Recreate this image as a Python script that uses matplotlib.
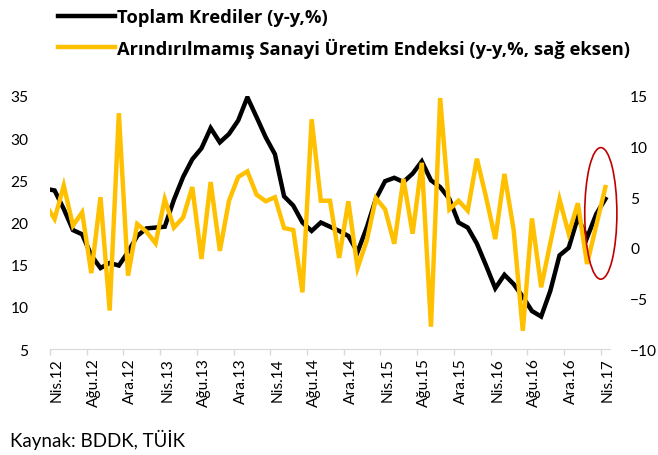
import numpy as np
import matplotlib.pyplot as plt
from matplotlib.patches import Ellipse
from matplotlib import transforms

plt.rcParams['font.family'] = ['Lato', 'DejaVu Sans']

# aylar: Mar.12 .. Nis.17 (Mar.12 grafik kenarinda kesiliyor)
ay_adlari = ['Oca', 'Şub', 'Mar', 'Nis', 'May', 'Haz',
             'Tem', 'Ağu', 'Eyl', 'Eki', 'Kas', 'Ara']
ilk_ay, ilk_yil = 2, 12   # Mart 2012
ay_sayisi = 62

# Toplam Krediler (y-y, %) - sol eksen
krediler = [24.0, 23.8, 21.6, 19.1, 18.6, 16.1, 14.6, 15.2, 14.9, 16.5,
            18.4, 19.3, 19.4, 19.5, 22.7, 25.4, 27.5, 28.8, 31.2, 29.5,
            30.5, 32.1, 34.85, 32.5, 30.1, 28.1, 23.1, 22.0, 20.0, 19.0,
            20.0, 19.5, 19.0, 18.4, 16.5, 19.4, 22.8, 24.9, 25.3, 24.8,
            25.8, 27.25, 25.0, 24.2, 22.8, 20.0, 19.4, 17.5, 14.9, 12.2,
            13.8, 12.7, 11.2, 9.5, 8.85, 11.9, 16.1, 17.0, 20.6, 18.2,
            21.0, 22.8]

# Arindirilmamis Sanayi Uretim Endeksi (y-y, %) - sag eksen
sanayi = [4.3, 2.85, 6.15, 2.2, 3.5, -2.5, 5.0, -6.2, 13.3, -2.75,
          2.35, 1.6, 0.44, 4.8, 2.0, 3.0, 6.0, -1.1, 6.5, -0.3,
          4.65, 7.0, 7.55, 5.25, 4.6, 5.0, 1.95, 1.76, -4.4, 12.7,
          4.65, 4.65, -1.0, 4.6, -2.0, 0.7, 4.9, 3.8, 0.4, 6.8,
          1.4, 8.4, -7.8, 14.8, 3.8, 4.65, 3.67, 8.8, 5.0, 0.87,
          7.3, 1.8, -8.2, 2.9, -3.9, 0.47, 4.8, 1.4, 4.4, -1.6,
          2.2, 6.0]

etiketler = []
for k in range(ay_sayisi):
    m = ilk_ay + k
    etiketler.append(f"{ay_adlari[m % 12]}.{ilk_yil + m // 12}")

x = np.arange(ay_sayisi) - 1          # Nis.12 -> 0
etiket_konum = x[1::4]
etiket_metin = etiketler[1::4]

gri = '#D9D9D9'
sari = '#FFC000'

fig = plt.figure(figsize=(6.58, 4.56), dpi=100)
ax = fig.add_axes([50 / 658, 1 - 350 / 456, 560 / 658, 253 / 456])
ax2 = ax.twinx()

l1, = ax.plot(x, krediler, color='black', lw=3.2, solid_joinstyle='miter')
l2, = ax2.plot(x, sanayi, color=sari, lw=3.2, solid_joinstyle='miter')

ax.set_xlim(-0.5, x[-1] + 0.5)
ax.set_ylim(5, 35)
ax.set_yticks(range(5, 36, 5))
ax2.set_ylim(-10, 15)
ax2.set_yticks(range(-10, 16, 5))

ax.set_xticks(etiket_konum)
ax.set_xticklabels(etiket_metin, rotation=90, fontsize=11.2)
ax.set_xticks(np.arange(-0.5, x[-1], 4), minor=True)
ax.tick_params(axis='x', which='major', length=0, pad=6)
ax.tick_params(axis='x', which='minor', length=4, color=gri, width=1)
ofs = transforms.ScaledTranslation(2.4 / 100, 0, fig.dpi_scale_trans)
for t in ax.get_xticklabels():
    t.set_transform(t.get_transform() + ofs)

ax.tick_params(axis='y', length=0, pad=15.5, labelsize=11.2)
ax2.tick_params(axis='y', length=0, pad=14.5, labelsize=11.2)

for s in ['top', 'left', 'right']:
    ax.spines[s].set_visible(False)
ax.spines['bottom'].set_color(gri)
for s in ax2.spines.values():
    s.set_visible(False)

# kirmizi elips (son veri etrafinda)
elips = Ellipse((x[-1] - 0.5, sanayi[-1] - 2.6), 3.5, 13.0,
                fill=False, edgecolor='#C00000', lw=1.2, zorder=5,
                clip_on=False)
ax2.add_patch(elips)

fig.legend([l1, l2],
           ['Toplam Krediler (y-y,%)',
            'Arındırılmamış Sanayi Üretim Endeksi (y-y,%, sağ eksen)'],
           loc='upper left', bbox_to_anchor=(58 / 658, 1 - 9 / 456),
           frameon=False, borderaxespad=0, borderpad=0,
           handlelength=3.1, handletextpad=0.1, labelspacing=0.62,
           prop=dict(family='Open Sans', weight='bold', size=13.2))

fig.text(10 / 658, 1 - 440 / 456, 'Kaynak: BDDK, TÜİK', fontsize=13.5,
         va='center', ha='left')

fig.savefig('out.png', dpi=100)
plt.close(fig)
